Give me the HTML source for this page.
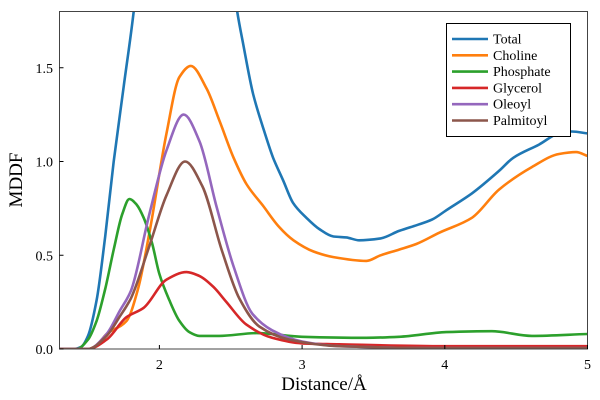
<!DOCTYPE html>
<html><head><meta charset="utf-8"><style>
body{margin:0;background:#fff;}
svg{display:block;font-family:"Liberation Serif",serif;}
</style></head><body>
<svg id="chart" width="600" height="400" viewBox="0 0 600 400">
<defs><clipPath id="clip"><rect x="59.5" y="11.5" width="528" height="337.5"/></clipPath></defs>
<g id="series" clip-path="url(#clip)"></g>
<rect x="59.5" y="11.5" width="528" height="337.5" fill="none" stroke="#444" stroke-width="1"/>
<g id="axes"></g>
<text x="324" y="390" text-anchor="middle" font-size="19">Distance/Å</text>
<text transform="translate(22,180) rotate(-90)" text-anchor="middle" font-size="19">MDDF</text>
<g id="legend">
<rect x="446.5" y="23.5" width="124" height="113" fill="#fff" stroke="#000" stroke-width="1"/>
</g>
</svg>
<script>
const names=["Total","Choline","Phosphate","Glycerol","Oleoyl","Palmitoyl"];
const colors=["#1f77b4","#ff7f0e","#2ca02c","#d62728","#9467bd","#8c564b"];
const xTicks=[2,3,4,5];
const yTicks=[0,0.5,1.0,1.5];
const yTickLabels=["0.0","0.5","1.0","1.5"];
const xTotal=[1.3,1.4,1.45,1.5,1.56,1.62,1.68,1.75,1.82,1.95,2.1,2.2,2.35,2.545,2.587,2.657,2.727,2.797,2.867,2.936,3.03,3.12,3.22,3.31,3.4,3.55,3.68,3.8,3.91,4.01,4.19,4.38,4.48,4.66,4.8,4.89,5.0];
const yTotal=[0,0,0.01,0.07,0.26,0.6,1.0,1.4,1.8,2.8,3.4,3.5,3.0,1.8,1.626,1.36,1.18,1.02,0.9,0.78,0.7,0.64,0.6,0.595,0.58,0.59,0.63,0.66,0.69,0.74,0.83,0.95,1.02,1.09,1.15,1.16,1.15];
const xCholine=[1.3,1.5,1.56,1.63,1.77,1.85,1.93,2.05,2.14,2.22,2.33,2.42,2.52,2.61,2.73,2.84,2.94,3.08,3.22,3.45,3.55,3.68,3.8,3.96,4.19,4.38,4.61,4.8,4.92,5.0];
const yCholine=[0,0,0.02,0.08,0.15,0.32,0.62,1.15,1.45,1.51,1.39,1.22,1.02,0.88,0.76,0.65,0.58,0.52,0.49,0.47,0.5,0.53,0.56,0.62,0.7,0.85,0.97,1.04,1.05,1.03];
const xPhosphate=[1.3,1.42,1.5,1.56,1.62,1.68,1.74,1.79,1.84,1.89,1.95,2.0,2.07,2.14,2.21,2.28,2.42,2.68,3.0,3.45,3.68,4.01,4.33,4.61,5.0];
const yPhosphate=[0,0,0.05,0.15,0.32,0.53,0.72,0.8,0.77,0.7,0.56,0.4,0.26,0.15,0.09,0.07,0.07,0.085,0.065,0.06,0.065,0.09,0.095,0.07,0.08];
const xGlycerol=[1.3,1.5,1.63,1.77,1.89,2.05,2.19,2.28,2.38,2.47,2.61,2.79,3.0,3.26,4.0,5.0];
const yGlycerol=[0,0,0.05,0.17,0.22,0.37,0.41,0.39,0.33,0.25,0.13,0.06,0.03,0.025,0.015,0.015];
const xOleoyl=[1.3,1.5,1.63,1.72,1.8,1.93,2.05,2.17,2.28,2.4,2.52,2.65,2.79,3.0,3.26,4.0,5.0];
const yOleoyl=[0,0,0.08,0.2,0.31,0.72,1.06,1.25,1.11,0.76,0.44,0.19,0.1,0.04,0.015,0.005,0.005];
const xPalmitoyl=[1.3,1.5,1.63,1.72,1.8,1.93,2.05,2.18,2.3,2.44,2.56,2.7,2.91,3.26,4.0,5.0];
const yPalmitoyl=[0,0,0.07,0.17,0.27,0.55,0.82,1.0,0.87,0.52,0.27,0.12,0.05,0.015,0.005,0.005];
const X=[xTotal,xCholine,xPhosphate,xGlycerol,xOleoyl,xPalmitoyl];
const Y=[yTotal,yCholine,yPhosphate,yGlycerol,yOleoyl,yPalmitoyl];

const NS="http://www.w3.org/2000/svg";
const x0=59.5,x1=587.5,y0=349,y1=11.5,xmin=1.3,xmax=5,ymin=0,ymax=1.8;
function sx(v){return x0+(v-xmin)/(xmax-xmin)*(x1-x0);}
function sy(v){return y0-(v-ymin)/(ymax-ymin)*(y0-y1);}
function monotonePath(xs,ys){
  const n=xs.length,d=[],m=new Array(n);
  for(let i=0;i<n-1;i++)d.push((ys[i+1]-ys[i])/(xs[i+1]-xs[i]));
  m[0]=d[0];m[n-1]=d[n-2];
  for(let i=1;i<n-1;i++){
    if(d[i-1]*d[i]<=0)m[i]=0;
    else{const h0=xs[i]-xs[i-1],h1=xs[i+1]-xs[i];const w1=2*h1+h0,w2=h1+2*h0;m[i]=(w1+w2)/(w1/d[i-1]+w2/d[i]);}
  }
  let s="M"+sx(xs[0]).toFixed(1)+","+sy(ys[0]).toFixed(1);
  for(let i=0;i<n-1;i++){
    const h=xs[i+1]-xs[i];
    const c1x=xs[i]+h/3,c1y=ys[i]+m[i]*h/3,c2x=xs[i+1]-h/3,c2y=ys[i+1]-m[i+1]*h/3;
    s+=" C"+sx(c1x).toFixed(1)+","+sy(c1y).toFixed(1)+" "+sx(c2x).toFixed(1)+","+sy(c2y).toFixed(1)+" "+sx(xs[i+1]).toFixed(1)+","+sy(ys[i+1]).toFixed(1);
  }
  return s;
}
const sg=document.getElementById("series");
for(let s=0;s<names.length;s++){
  const p=document.createElementNS(NS,"path");
  p.setAttribute("d",monotonePath(X[s],Y[s]));
  p.setAttribute("fill","none");
  p.setAttribute("stroke",colors[s]);
  p.setAttribute("stroke-width","2.6");
  p.setAttribute("stroke-linejoin","round");
  
  
  sg.appendChild(p);
}
const ag=document.getElementById("axes");
xTicks.forEach(v=>{
  const l=document.createElementNS(NS,"line");
  l.setAttribute("x1",sx(v));l.setAttribute("x2",sx(v));l.setAttribute("y1",y0);l.setAttribute("y2",y0-4);
  l.setAttribute("stroke","#000");
  
  
  ag.appendChild(l);
  const t=document.createElementNS(NS,"text");
  t.setAttribute("x",sx(v));t.setAttribute("y",369);t.setAttribute("text-anchor","middle");t.setAttribute("font-size","14");
  t.textContent=String(v);
  
  
  ag.appendChild(t);
});
yTicks.forEach((v,i)=>{
  const l=document.createElementNS(NS,"line");
  l.setAttribute("x1",x0);l.setAttribute("x2",x0+4);l.setAttribute("y1",sy(v));l.setAttribute("y2",sy(v));
  l.setAttribute("stroke","#000");
  
  
  ag.appendChild(l);
  const t=document.createElementNS(NS,"text");
  t.setAttribute("x",53);t.setAttribute("y",sy(v)+5);t.setAttribute("text-anchor","end");t.setAttribute("font-size","14");
  t.textContent=yTickLabels[i];
  
  
  ag.appendChild(t);
});
const lg=document.getElementById("legend");
names.forEach((n,i)=>{
  const y=39+i*16.3;
  const l=document.createElementNS(NS,"line");
  l.setAttribute("x1",452);l.setAttribute("x2",488);l.setAttribute("y1",y);l.setAttribute("y2",y);
  l.setAttribute("stroke",colors[i]);l.setAttribute("stroke-width","2.6");
  
  
  lg.appendChild(l);
  const t=document.createElementNS(NS,"text");
  t.setAttribute("x",493);t.setAttribute("y",y+4.5);t.setAttribute("font-size","14");
  t.textContent=n;
  
  
  lg.appendChild(t);
});
</script>
</body></html>
